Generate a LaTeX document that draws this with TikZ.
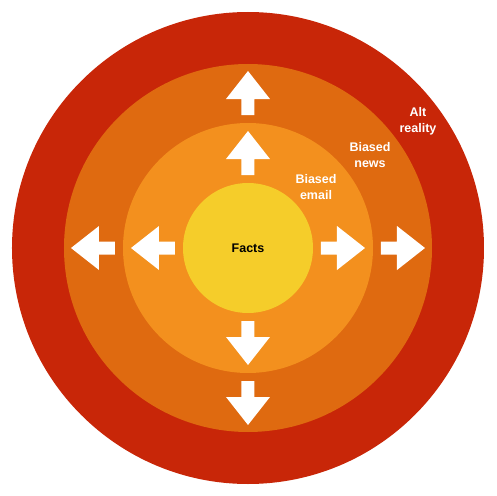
\documentclass[tikz,border=0pt]{standalone}
\usepackage{fontspec}
\setmainfont{Liberation Sans}
\definecolor{ringred}{RGB}{200,38,8}
\definecolor{ringdark}{RGB}{223,106,16}
\definecolor{ringorange}{RGB}{243,144,30}
\definecolor{ringyellow}{RGB}{245,205,42}
\begin{document}
\begin{tikzpicture}[x=1pt,y=1pt,
  ring/.style={circle,inner sep=0pt,draw=none},
  lbl/.style={align=center,font=\bfseries\fontsize{12.5}{16}\selectfont,text=white},
  arr/.pic={\fill[white] (0,-6.5) -- (16,-6.5) -- (16,-22) -- (44,0) -- (16,22) -- (16,6.5) -- (0,6.5) -- cycle;}]
\useasboundingbox (-248,-248) rectangle (248,248);
\node[ring,fill=ringred,minimum size=472pt] (alt) at (0,0) {};
\node[ring,fill=ringdark,minimum size=368pt] (news) at (0,0) {};
\node[ring,fill=ringorange,minimum size=250pt] (email) at (0,0) {};
\node[ring,fill=ringyellow,minimum size=130pt] (facts) at (0,0) {};
\node[lbl,text=black] (factslbl) at (0,0) {Facts};
\node[lbl] (altlbl) at (170,127) {Alt\\reality};
\node[lbl] (newslbl) at (122,93) {Biased\\news};
\node[lbl] (emaillbl) at (68,61) {Biased\\email};
\foreach \a in {0,90,180,270}{
  \pic[rotate=\a] at (\a:73) {arr};
  \pic[rotate=\a] at (\a:133) {arr};
}
\end{tikzpicture}
\end{document}
